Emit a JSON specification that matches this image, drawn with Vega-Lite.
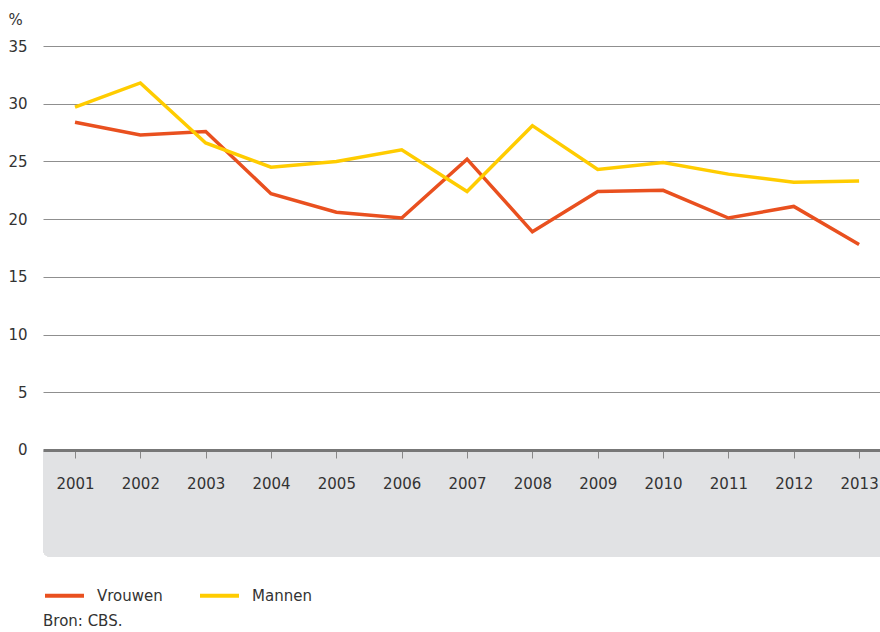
{
  "$schema": "https://vega.github.io/schema/vega-lite/v6.json",
  "width": 837,
  "height": 511,
  "autosize": {"type": "none"},
  "padding": {"left": 43, "top": 46, "right": 0, "bottom": 75},
  "background": "#ffffff",
  "view": {"stroke": null},
  "config": {
    "font": "DejaVu Sans",
    "axis": {"labelFont": "DejaVu Sans", "labelFontSize": 15, "labelColor": "#333333", "titleFont": "DejaVu Sans"},
    "legend": {"labelFont": "DejaVu Sans", "labelFontSize": 15, "labelColor": "#333333"},
    "title": {"font": "DejaVu Sans"}
  },
  "title": {
    "text": "Bron: CBS.",
    "orient": "bottom",
    "anchor": "start",
    "frame": "group",
    "fontSize": 15,
    "fontWeight": "normal",
    "color": "#333333",
    "offset": 10
  },
  "data": {
    "values": [
      {"year": 2001, "series": "Vrouwen", "value": 28.4},
      {"year": 2002, "series": "Vrouwen", "value": 27.3},
      {"year": 2003, "series": "Vrouwen", "value": 27.6},
      {"year": 2004, "series": "Vrouwen", "value": 22.2},
      {"year": 2005, "series": "Vrouwen", "value": 20.6},
      {"year": 2006, "series": "Vrouwen", "value": 20.1},
      {"year": 2007, "series": "Vrouwen", "value": 25.2},
      {"year": 2008, "series": "Vrouwen", "value": 18.9},
      {"year": 2009, "series": "Vrouwen", "value": 22.4},
      {"year": 2010, "series": "Vrouwen", "value": 22.5},
      {"year": 2011, "series": "Vrouwen", "value": 20.1},
      {"year": 2012, "series": "Vrouwen", "value": 21.1},
      {"year": 2013, "series": "Vrouwen", "value": 17.8},
      {"year": 2001, "series": "Mannen", "value": 29.7},
      {"year": 2002, "series": "Mannen", "value": 31.8},
      {"year": 2003, "series": "Mannen", "value": 26.6},
      {"year": 2004, "series": "Mannen", "value": 24.5},
      {"year": 2005, "series": "Mannen", "value": 25.0},
      {"year": 2006, "series": "Mannen", "value": 26.0},
      {"year": 2007, "series": "Mannen", "value": 22.4},
      {"year": 2008, "series": "Mannen", "value": 28.1},
      {"year": 2009, "series": "Mannen", "value": 24.3},
      {"year": 2010, "series": "Mannen", "value": 24.9},
      {"year": 2011, "series": "Mannen", "value": 23.9},
      {"year": 2012, "series": "Mannen", "value": 23.2},
      {"year": 2013, "series": "Mannen", "value": 23.3}
    ]
  },
  "layer": [
    {
      "mark": {"type": "rect", "color": "#e1e2e4", "cornerRadiusBottomLeft": 8},
      "encoding": {
        "y": {"datum": -9.27, "type": "quantitative"},
        "y2": {"datum": 0}
      }
    },
    {
      "mark": {"type": "line", "strokeWidth": 3.5, "strokeJoin": "miter"},
      "encoding": {
        "x": {
          "field": "year",
          "type": "quantitative",
          "scale": {"domain": [2000.51, 2013.32], "nice": false, "zero": false},
          "axis": {
            "values": [2001, 2002, 2003, 2004, 2005, 2006, 2007, 2008, 2009, 2010, 2011, 2012, 2013],
            "format": "d",
            "title": null,
            "offset": -107,
            "zindex": 1,
            "domainColor": "#777777",
            "domainWidth": 3,
            "tickColor": "#888888",
            "tickSize": 8,
            "tickWidth": 1,
            "labelPadding": 18,
            "grid": false
          }
        },
        "y": {
          "field": "value",
          "type": "quantitative",
          "scale": {"domain": [-9.27, 35], "nice": false, "zero": false},
          "axis": {
            "values": [0, 5, 10, 15, 20, 25, 30, 35],
            "title": "%",
            "titleAngle": 0,
            "titleAlign": "left",
            "titleBaseline": "middle",
            "titleX": -35,
            "titleY": -27,
            "titleFontSize": 15,
            "titleFontWeight": "normal",
            "titleColor": "#333333",
            "domain": false,
            "ticks": false,
            "labelPadding": 16,
            "grid": true,
            "gridColor": "#8f8f8f",
            "gridWidth": 1
          }
        },
        "color": {
          "field": "series",
          "type": "nominal",
          "scale": {"domain": ["Vrouwen", "Mannen"], "range": ["#e9501f", "#ffcc00"]},
          "legend": {
            "title": null,
            "orient": "none",
            "direction": "horizontal",
            "legendX": 0,
            "legendY": 528,
            "symbolType": "stroke",
            "symbolSize": 1521,
            "symbolStrokeWidth": 4,
            "labelOffset": 11,
            "columnPadding": 29
          }
        }
      }
    }
  ]
}
